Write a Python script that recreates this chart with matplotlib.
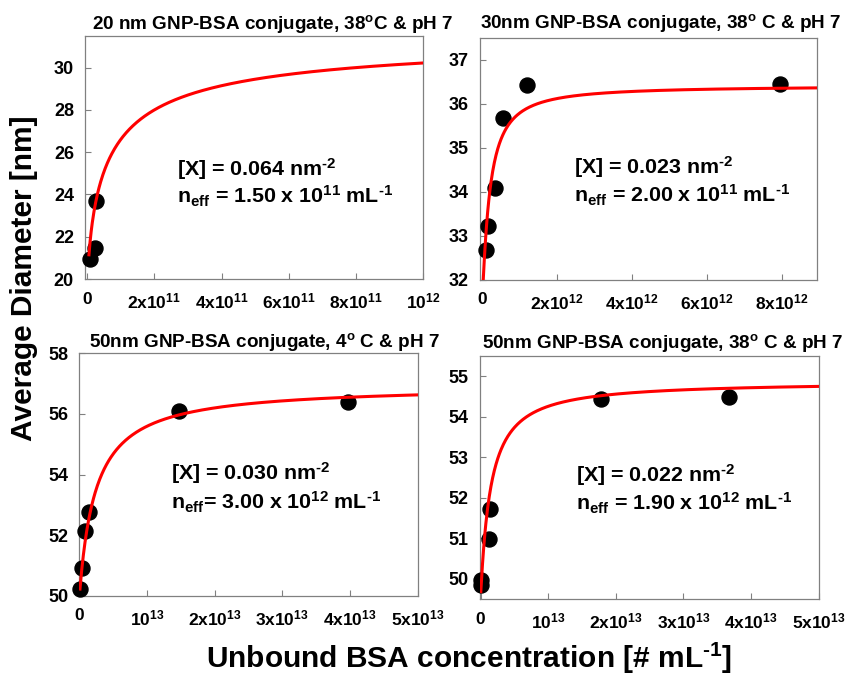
import numpy as np
import matplotlib
matplotlib.use("Agg")
import matplotlib.pyplot as plt

plt.rcParams['font.family'] = ['Liberation Sans', 'DejaVu Sans']
plt.rcParams['font.weight'] = 'bold'
plt.rcParams['mathtext.fontset'] = 'custom'
plt.rcParams['mathtext.rm'] = 'Liberation Sans:bold'
plt.rcParams['mathtext.it'] = 'Liberation Sans:bold'
plt.rcParams['mathtext.bf'] = 'Liberation Sans:bold'

# measured points, x in units of each panel's scale
scale = [1e11, 1e12, 1e13, 1e13]
x1 = [0.08, 0.23, 0.25]
y1 = [20.95, 21.49, 23.7]
x2 = [0.12, 0.15, 0.34, 0.57, 1.2, 7.95]
y2 = [32.69, 33.22, 34.09, 35.67, 36.42, 36.44]
x3 = [0.01, 0.035, 0.085, 0.14, 1.473, 3.97]
y3 = [50.22, 50.91, 52.15, 52.76, 56.1, 56.41]
x4 = [0.002, 0.004, 0.127, 0.137, 1.78, 3.68]
y4 = [49.85, 49.98, 50.97, 51.72, 54.45, 54.5]

# fit curves: D = D0 + A*c^n/(K^n + c^n), drawn from c_start to c_end
fit_D0 = [19.414, 31.455, 49.95, 49.627]
fit_A = [12.257, 4.957, 7.0, 5.246]
fit_K = [0.6132, 0.2, 0.24, 0.1487]
fit_n = [0.72, 1.2, 1.0, 1.06]
c_start = [0.05, 0.02, 0.01, 0.002]
c_end = [10.0, 8.95, 5.0, 5.0]

titles = ["20 nm GNP-BSA conjugate, 38$^{o}$C & pH 7",
          "30nm GNP-BSA conjugate, 38$^{o}$ C & pH 7",
          "50nm GNP-BSA conjugate, 4$^{o}$ C & pH 7",
          "50nm GNP-BSA conjugate, 38$^{o}$ C & pH 7"]
line1 = [r"[X] = 0.064 nm$^{\text{-2}}$", r"[X] = 0.023 nm$^{\text{-2}}$",
         r"[X] = 0.030 nm$^{\text{-2}}$", r"[X] = 0.022 nm$^{\text{-2}}$"]
line2 = [r"n$_{eff}$ = 1.50 x 10$^{11}$ mL$^{\text{-1}}$",
         r"n$_{eff}$ = 2.00 x 10$^{11}$ mL$^{\text{-1}}$",
         r"n$_{eff}$= 3.00 x 10$^{12}$ mL$^{\text{-1}}$",
         r"n$_{eff}$ = 1.90 x 10$^{12}$ mL$^{\text{-1}}$"]

xticks = [[0, 2, 4, 6, 8, 10], [0, 2, 4, 6, 8], [0, 1, 2, 3, 4, 5], [0, 1, 2, 3, 4, 5]]
xticklabels = [["0", "2x10$^{11}$", "4x10$^{11}$", "6x10$^{11}$", "8x10$^{11}$", "10$^{12}$"],
               ["0", "2x10$^{12}$", "4x10$^{12}$", "6x10$^{12}$", "8x10$^{12}$"],
               ["0", "10$^{13}$", "2x10$^{13}$", "3x10$^{13}$", "4x10$^{13}$", "5x10$^{13}$"],
               ["0", "10$^{13}$", "2x10$^{13}$", "3x10$^{13}$", "4x10$^{13}$", "5x10$^{13}$"]]
yticks = [[20, 22, 24, 26, 28, 30], [32, 33, 34, 35, 36, 37],
          [50, 52, 54, 56, 58], [50, 51, 52, 53, 54, 55]]
xlims = [(-0.068, 10.0), (-0.064, 8.95), (0, 5), (-0.01, 5)]
ylims = [(20, 31.5), (32, 37.5), (50, 58), (49.5, 55.5)]

W, H = 847, 676
# axes boxes in pixels: left, top, right, bottom
boxes = [(85, 36, 423, 279), (479.5, 37.7, 817.3, 280),
         (79.3, 353.3, 417.7, 596), (480, 356, 818.7, 599)]
title_pos = [(273, 29.3), (661, 28.3), (264.7, 346.7), (663, 348.3)]
text_pos = [(176.7, 176, 203.3), (574, 174, 202.7),
            (170.7, 480, 509.3), (575.7, 481.7, 510.7)]

xs = [x1, x2, x3, x4]
ys = [y1, y2, y3, y4]

fig = plt.figure(figsize=(8.47, 6.76), dpi=100)
for i in range(4):
    l, t, r, b = boxes[i]
    ax = fig.add_axes([l / W, 1 - b / H, (r - l) / W, (b - t) / H])
    ax.plot(xs[i], ys[i], 'o', color='black', ms=10.8, clip_on=False, zorder=3)
    cc = np.linspace(c_start[i], c_end[i], 600)
    dd = fit_D0[i] + fit_A[i] * cc**fit_n[i] / (fit_K[i]**fit_n[i] + cc**fit_n[i])
    ax.plot(cc, dd, color='red', lw=2.2, zorder=4)
    ax.set_xlim(xlims[i])
    ax.set_ylim(ylims[i])
    ax.set_xticks(xticks[i])
    ax.set_xticklabels(xticklabels[i], fontsize=12.5)
    ax.set_yticks(yticks[i])
    ax.set_yticklabels([str(v) for v in yticks[i]], fontsize=13)
    ax.tick_params(direction='in', length=4, width=0.8, color='#808080')
    ax.tick_params(axis='x', pad=9)
    ax.tick_params(axis='y', pad=8)
    for s in ax.spines.values():
        s.set_color('#808080')
        s.set_linewidth(0.9)
    tx, ty = title_pos[i]
    fig.text(tx / W, 1 - ty / H, titles[i], fontsize=13.6, fontweight='bold',
             ha='center', va='baseline')
    px, b1, b2 = text_pos[i]
    fig.text(px / W, 1 - b1 / H, line1[i], fontsize=15.4, fontweight='bold',
             ha='left', va='baseline')
    fig.text(px / W, 1 - b2 / H, line2[i], fontsize=15.4, fontweight='bold',
             ha='left', va='baseline')

fig.text(24 / W, 1 - 278 / H, "Average Diameter [nm]", fontsize=21.5,
         fontweight='bold', rotation=90, ha='center', va='center')
fig.text(469 / W, 1 - 668 / H, r"Unbound BSA concentration [# mL$^{\text{-1}}$]",
         fontsize=21.5, fontweight='bold', ha='center', va='baseline')

fig.savefig("out.png", dpi=100)
